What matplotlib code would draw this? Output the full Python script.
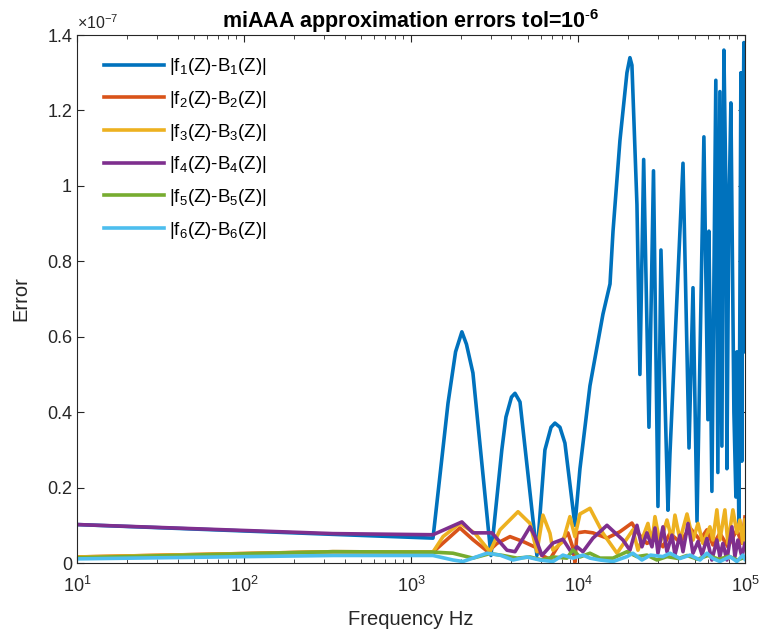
import numpy as np
import matplotlib
matplotlib.use("Agg")
import matplotlib.pyplot as plt
from matplotlib.ticker import FuncFormatter, LogLocator, FixedLocator

plt.rcParams["font.family"] = ["Liberation Sans", "DejaVu Sans"]
plt.rcParams["mathtext.fontset"] = "custom"
plt.rcParams["mathtext.rm"] = "Liberation Sans"
plt.rcParams["mathtext.it"] = "Liberation Sans:italic"
plt.rcParams["mathtext.bf"] = "Liberation Sans:bold"

# === DATA (errors in units of 1e-7) ===
f1 = [10, 341, 1355, 1667, 1850, 2018, 2150, 2350, 3013, 3500, 3706, 4000, 4198, 4498, 5680,
      6342, 6900, 7281, 7800, 8357, 9594, 10280, 11800, 14120, 15560, 16220, 17840, 19650,
      20480, 21050, 22560, 23500, 24750, 26620, 28340, 30140, 31410, 34600, 35560, 42570,
      46250, 48860, 51640, 56790, 60020, 60850, 63410, 66940, 68850, 70800, 72780, 74820,
      76910, 77980, 80000, 82400, 85880, 88280, 89500, 92000, 94570, 95880, 97000, 98560,
      99300, 100000]
e1 = [0.102, 0.076, 0.066, 0.424, 0.56, 0.613, 0.58, 0.504, 0.02, 0.30, 0.387, 0.44, 0.45, 0.427, 0.02,
      0.30, 0.36, 0.371, 0.36, 0.318, 0.10, 0.25, 0.47, 0.66, 0.74, 0.88, 1.12, 1.30,
      1.34, 1.32, 0.95, 0.50, 1.07, 0.36, 1.04, 0.15, 0.83, 0.14, 0.29, 1.06,
      0.305, 0.73, 0.11, 1.13, 0.38, 0.88, 0.19, 1.28, 0.24, 1.25, 0.31, 1.36,
      0.99, 0.25, 0.9, 1.22, 0.40, 0.175, 0.56, 0.1, 1.30, 0.27, 1.0, 1.38,
      1.33, 0.56]

f2 = [10, 341, 1355, 1964, 2350, 2890, 3273, 3918, 4690, 5680, 6086, 6796, 7801, 8710,
      9333, 9594, 9862, 11010, 12300, 14920, 17840, 21050, 22880, 25890, 29720, 32290,
      35560, 40830, 46890, 53820, 59200, 64290, 70800, 79060, 89500, 95880, 100000]
e2 = [0.016, 0.03, 0.029, 0.093, 0.062, 0.03, 0.052, 0.07, 0.057, 0.04, 0.02, 0.01, 0.053, 0.08,
      0.04, 0.002, 0.08, 0.083, 0.08, 0.066, 0.083, 0.106, 0.079, 0.052, 0.065, 0.043,
      0.079, 0.055, 0.093, 0.061, 0.088, 0.048, 0.079, 0.043, 0.088, 0.052, 0.122]

f3 = [10, 341, 1355, 1556, 1964, 2415, 2972, 3412, 4376, 5164, 5680, 6170, 6796, 7083,
      8130, 8954, 9594, 10280, 11800, 14120, 17140, 21340, 22880, 26250, 27750, 28920,
      30980, 34130, 36560, 38100, 40830, 44990, 48860, 52360, 56000, 61690, 64290, 67920,
      70800, 75860, 79060, 84710, 89500, 93280, 97210, 100000]
e3 = [0.016, 0.03, 0.029, 0.07, 0.105, 0.079, 0.03, 0.088, 0.136, 0.105, 0.03, 0.127, 0.079, 0.034,
      0.057, 0.123, 0.07, 0.13, 0.145, 0.079, 0.026, 0.088, 0.034, 0.105, 0.052, 0.123,
      0.052, 0.114, 0.061, 0.127, 0.061, 0.13, 0.061, 0.105, 0.052, 0.096, 0.061, 0.141,
      0.061, 0.141, 0.052, 0.141, 0.08, 0.114, 0.052, 0.114]

f4 = [10, 341, 1355, 2018, 2350, 3055, 3758, 4198, 5164, 5534, 6086, 7083, 8130, 9204,
      9862, 10710, 12300, 14920, 18590, 20480, 22560, 24160, 25890, 27750, 28920, 30140,
      32290, 34130, 36560, 38100, 40830, 42570, 45620, 48860, 52360, 55330, 59200, 63410,
      67920, 70800, 73790, 77980, 83550, 87070, 90740, 95880, 100000]
e4 = [0.102, 0.078, 0.075, 0.109, 0.08, 0.08, 0.034, 0.03, 0.096, 0.07, 0.02, 0.053, 0.063, 0.026,
      0.043, 0.03, 0.066, 0.10, 0.061, 0.034, 0.10, 0.043, 0.08, 0.043, 0.093, 0.026,
      0.096, 0.03, 0.074, 0.022, 0.074, 0.03, 0.105, 0.026, 0.057, 0.022, 0.065, 0.008,
      0.061, 0.017, 0.052, 0.008, 0.096, 0.017, 0.061, 0.017, 0.052]

f5 = [10, 341, 1355, 1784, 2350, 2972, 3556, 4315, 5164, 6086, 7083, 8590, 9333, 10280,
      11800, 13550, 16220, 19650, 22560, 25890, 29720, 34130, 40000, 45000, 52000, 60000,
      70000, 80000, 90000, 100000]
e5 = [0.014, 0.03, 0.029, 0.026, 0.013, 0.025, 0.02, 0.013, 0.016, 0.008, 0.016, 0.013, 0.035, 0.016,
      0.026, 0.013, 0.013, 0.03, 0.017, 0.021, 0.008, 0.017, 0.012, 0.02, 0.01, 0.02,
      0.01, 0.018, 0.008, 0.015]

f6 = [10, 341, 1355, 1784, 2047, 2350, 2851, 3412, 4084, 4955, 5920, 7083, 8130, 9333,
      10710, 11800, 13550, 16220, 19650, 21340, 24160, 27200, 32290, 35560, 40830, 46890,
      53820, 59200, 64290, 70800, 81270, 89500, 97210, 100000]
e6 = [0.011, 0.02, 0.02, 0.008, 0.004, 0.013, 0.026, 0.021, 0.008, 0.016, 0.008, 0.004, 0.021, 0.013,
      0.021, 0.013, 0.008, 0.004, 0.017, 0.026, 0.008, 0.021, 0.017, 0.026, 0.012, 0.021,
      0.008, 0.026, 0.012, 0.004, 0.017, 0.004, 0.021, 0.01]

labels = [r"|f$_%d$(Z)-B$_%d$(Z)|" % (i, i) for i in range(1, 7)]
colors = ["#0072BD", "#D95319", "#EDB120", "#7E2F8E", "#77AC30", "#4DBEEE"]

SCALE = 1e-7

fig = plt.figure(figsize=(7.66, 6.39), dpi=100)
ax = fig.add_axes([0.1005, 0.1189, 0.872, 0.8263])

series = [(f1, e1), (f2, e2), (f3, e3), (f4, e4), (f5, e5), (f6, e6)]
for (f, e), c, lab in zip(series, colors, labels):
    ax.plot(f, np.array(e) * SCALE, color=c, lw=2.6, label=lab)

ax.set_xscale("log")
ax.set_xlim(10, 1e5)
ax.set_ylim(0, 1.4e-7)
ax.yaxis.set_major_locator(FixedLocator(np.arange(0, 1.41, 0.2) * SCALE))
ax.yaxis.set_major_formatter(FuncFormatter(lambda v, p: "%g" % round(v / SCALE, 3)))
ax.xaxis.set_major_locator(LogLocator(base=10, numticks=10))
ax.xaxis.set_minor_locator(LogLocator(base=10, subs=np.arange(2, 10), numticks=20))

ax.tick_params(which="both", direction="in", top=True, right=True, colors="#262626",
               labelsize=13)
ax.tick_params(which="major", length=5, width=0.8)
ax.tick_params(which="minor", length=3, width=0.6)
ax.tick_params(axis="x", pad=9)
for s in ax.spines.values():
    s.set_color("#262626")
    s.set_linewidth(0.8)

ax.text(0.0, 1.005, r"$\times10^{-7}$", transform=ax.transAxes, fontsize=11.5,
        color="#262626", ha="left", va="bottom")

ax.set_xlabel("Frequency Hz", fontsize=14.5, color="#262626", labelpad=10)
ax.set_ylabel("Error", fontsize=14.5, color="#262626", labelpad=12)
ax.set_title(r"miAAA approximation errors tol=10$^{\mathbf{\text{-}6}}$", fontsize=15.5,
             fontweight="bold", color="black", pad=5)

leg = ax.legend(loc="upper left", frameon=False, fontsize=13.5, handlelength=3.2,
                labelspacing=0.62, handletextpad=0.3, borderaxespad=0.6,
                bbox_to_anchor=(0.012, 0.995))

fig.savefig("out.png", dpi=100)
